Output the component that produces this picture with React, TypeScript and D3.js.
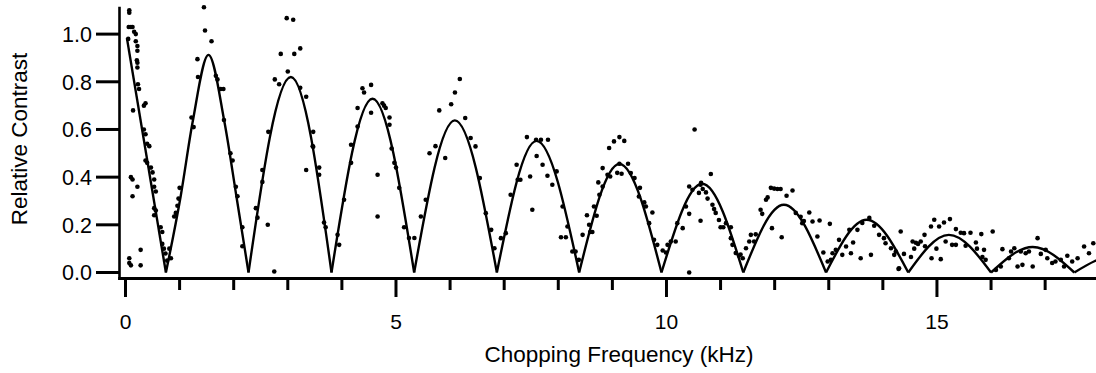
import React from "react";
import * as d3 from "d3";

// ---- Data ----
// Fitted curve knots: each arch is listed from zero to zero
const fitArches: [number, number][][] = [
  [[0.026, 0.983], [0.747, 0]],
  [[0.747, 0], [1.02, 0.32], [1.24, 0.63], [1.534, 0.913], [1.83, 0.63], [2.05, 0.32], [2.274, 0]],
  [[2.274, 0], [3.057, 0.82], [3.808, 0]],
  [[3.808, 0], [4.566, 0.729], [5.336, 0]],
  [[5.336, 0], [6.088, 0.638], [6.865, 0]],
  [[6.865, 0], [7.597, 0.552], [8.386, 0]],
  [[8.386, 0], [9.13, 0.455], [9.908, 0]],
  [[9.908, 0], [10.66, 0.372], [11.42, 0]],
  [[11.42, 0], [12.17, 0.284], [12.95, 0]],
  [[12.95, 0], [13.7, 0.221], [14.47, 0]],
  [[14.47, 0], [15.22, 0.158], [16.0, 0]],
  [[16.0, 0], [16.77, 0.107], [17.54, 0]],
  [[17.54, 0], [18.3, 0.07], [19.1, 0]],
];

// Measured points, grouped by frequency range
const dots0to3: [number, number][] = [
  [0.07,1.10],[0.07,1.09],[0.06,1.03],[0.10,1.03],[0.13,1.03],[0.16,1.01],[0.19,1.00],[0.05,0.98],[0.19,0.97],[0.22,0.95],[0.22,0.93],[0.21,0.89],[0.22,0.88],[0.22,0.86],[0.23,0.79],[0.25,0.77],[0.14,0.68],[0.34,0.70],[0.37,0.71],[0.34,0.60],[0.37,0.58],[0.40,0.54],[0.44,0.53],[0.37,0.47],[0.40,0.46],[0.47,0.44],[0.50,0.42],[0.53,0.39],[0.53,0.36],[0.56,0.34],[0.10,0.40],[0.13,0.39],[0.22,0.36],[0.13,0.32],[0.53,0.27],[0.56,0.26],[0.53,0.24],[0.65,0.19],[0.68,0.17],[0.68,0.12],[0.71,0.10],[0.74,0.08],[0.77,0.05],[0.28,0.095],[0.07,0.06],[0.10,0.03],[0.28,0.03],[0.07,0.04],
  [0.81,0.10],[0.84,0.06],[0.90,0.235],[0.93,0.25],[0.96,0.28],[1.00,0.355],[0.98,0.31],[1.22,0.65],[1.26,0.61],[1.34,0.82],[1.33,0.895],[1.45,1.113],[1.47,1.015],[1.59,0.97],[1.67,0.825],[1.70,0.81],[1.76,0.77],[1.81,0.77],[1.82,0.64],[1.94,0.50],[1.98,0.47],[2.04,0.36],[2.07,0.32],[2.16,0.19],[2.16,0.11],[2.75,0.004],
  [2.41,0.27],[2.44,0.23],[2.53,0.43],[2.53,0.38],[2.64,0.59],[2.63,0.20],[2.76,0.81],[2.87,0.917],[2.84,0.79],[2.98,1.067],[3.10,1.06],[3.00,0.843],[3.12,0.917],[3.23,0.94],[3.23,0.775],[3.34,0.737],[3.47,0.59],[3.34,0.43],[3.46,0.53],
];
const dots3to7: [number, number][] = [
  [3.47,0.527],[3.58,0.44],[3.58,0.41],[3.67,0.21],[3.70,0.19],
  [3.92,0.158],[3.95,0.116],[4.04,0.305],[4.17,0.46],[4.17,0.536],[4.29,0.612],[4.29,0.69],[4.38,0.773],[4.41,0.755],[4.54,0.787],[4.54,0.67],[4.66,0.41],[4.66,0.235],[4.75,0.71],[4.78,0.70],[4.81,0.69],[4.88,0.65],[4.88,0.62],[4.92,0.52],[4.97,0.46],[5.00,0.44],[5.06,0.355],[5.15,0.19],[5.24,0.145],[5.34,0.145],
  [5.46,0.235],[5.55,0.305],[5.62,0.50],[5.73,0.53],[5.80,0.68],[5.91,0.48],[6.02,0.706],[6.09,0.755],[6.18,0.812],[6.28,0.648],[6.38,0.564],[6.47,0.529],[6.55,0.396],[6.66,0.249],[6.76,0.179],[6.82,0.102],[6.94,0.144],[7.03,0.165],
];
const dots7to11: [number, number][] = [
  [7.12,0.326],[7.23,0.452],[7.25,0.389],[7.30,0.389],[7.42,0.568],[7.48,0.403],[7.52,0.263],[7.59,0.557],[7.68,0.557],[7.81,0.557],[7.60,0.489],[7.71,0.452],[7.80,0.406],[7.89,0.368],[7.97,0.424],[8.08,0.277],[8.05,0.148],[8.14,0.148],[8.17,0.193],[8.26,0.088],[8.32,0.088],[8.38,0.053],
  [8.45,0.158],[8.53,0.24],[8.57,0.20],[8.59,0.17],[8.63,0.17],[8.66,0.277],[8.71,0.238],[8.76,0.326],[8.82,0.361],[8.74,0.378],[8.82,0.438],[8.91,0.41],[8.96,0.403],[8.94,0.522],[9.03,0.55],[9.13,0.568],[9.22,0.552],[9.09,0.418],[9.17,0.414],[9.13,0.456],[9.29,0.456],[9.34,0.417],[9.41,0.396],[9.51,0.355],[9.49,0.319],[9.59,0.294],[9.62,0.277],[9.74,0.252],[9.68,0.207],[9.77,0.137],[9.83,0.116],[9.93,0.092],[9.99,0.084],
  [10.02,0.116],[10.08,0.13],[10.17,0.13],[10.20,0.207],[10.30,0.186],[10.36,0.277],[10.42,0.246],[10.42,0.361],[10.48,0.347],[10.52,0.60],[10.63,0.368],[10.60,0.334],[10.63,0.217],[10.42,0.0],
  [10.64,0.376],[10.67,0.35],[10.73,0.336],[10.76,0.31],[10.82,0.413],[10.85,0.284],[10.88,0.266],[10.91,0.25],[10.97,0.22],[11.00,0.19],[11.05,0.19],[11.10,0.207],[11.19,0.19],[11.19,0.144],[11.22,0.116],[11.28,0.082],[11.34,0.07],[11.37,0.075],[11.41,0.06],
];
const dots11to18: [number, number][] = [
  [11.47,0.102],[11.53,0.13],[11.56,0.158],[11.62,0.13],[11.65,0.16],[11.74,0.263],[11.77,0.246],[11.84,0.305],[11.87,0.315],[11.93,0.355],[11.99,0.352],[12.05,0.35],[12.11,0.35],[11.95,0.186],[12.13,0.148],[12.22,0.322],[12.33,0.344],[12.39,0.25],[12.48,0.234],[12.54,0.216],[12.51,0.207],[12.64,0.252],[12.70,0.214],[12.83,0.218],[12.79,0.151],[12.90,0.084],[13.02,0.204],[12.98,0.046],[13.04,0.053],
  [13.07,0.081],[13.13,0.095],[13.19,0.137],[13.25,0.074],[13.32,0.109],[13.41,0.081],[13.45,0.126],[13.38,0.179],[13.53,0.179],[13.59,0.06],[13.62,0.208],[13.75,0.229],[13.78,0.074],[13.84,0.196],[13.93,0.158],[14.02,0.144],[14.05,0.123],[14.15,0.102],[14.21,0.074],[14.29,0.015],
  [14.24,0.088],[14.30,0.018],[14.39,0.078],[14.52,0.065],[14.33,0.172],[14.55,0.13],[14.61,0.125],[14.70,0.13],[14.78,0.11],[14.58,0.10],[14.65,0.12],[14.77,0.158],[14.89,0.193],[14.95,0.221],[15.04,0.193],[14.99,0.10],[14.90,0.06],[15.07,0.056],[15.13,0.21],[15.24,0.224],[15.16,0.13],[15.28,0.116],[15.35,0.116],[15.35,0.182],[15.44,0.167],[15.50,0.165],[15.62,0.167],[15.53,0.112],[15.72,0.126],[15.74,0.10],[15.82,0.161],[15.87,0.095],[15.84,0.065],[15.90,0.053],[16.03,0.172],[16.09,0.011],[16.18,0.025],
  [16.21,0.098],[16.33,0.06],[16.37,0.088],[16.43,0.102],[16.49,0.025],[16.58,0.032],[16.55,0.088],[16.64,0.081],[16.70,0.088],[16.77,0.025],[16.86,0.144],[16.92,0.078],[17.01,0.095],[17.04,0.06],[17.13,0.04],[17.19,0.046],[17.29,0.053],[17.35,0.025],[17.41,0.07],[17.50,0.046],[17.60,0.06],[17.72,0.109],[17.81,0.081],[17.89,0.123],
];

const xMajorTicks = [0, 5, 10, 15];
const xMinorTicks = [1, 2, 3, 4, 6, 7, 8, 9, 11, 12, 13, 14, 16, 17];
const yTicks = [0, 0.2, 0.4, 0.6, 0.8, 1.0];
const xTitle = "Chopping Frequency (kHz)";
const yTitle = "Relative Contrast";

const W = 1096;
const H = 373;
const FONT = "'Liberation Sans', Arial, Helvetica, sans-serif";

export default function App() {
  const x = d3.scaleLinear().domain([0, 17.94]).range([125.5, 1096]);
  const y = d3.scaleLinear().domain([0, 1.115]).range([272.5, 6.7]);
  const line = d3
    .line<[number, number]>()
    .x((d) => x(d[0]))
    .y((d) => y(d[1]))
    .curve(d3.curveMonotoneX);

  const axisY = 278.5;
  const yAxisX = 119.5;
  const allDots = [...dots0to3, ...dots3to7, ...dots7to11, ...dots11to18];

  return (
    <svg
      width={W}
      height={H}
      viewBox={`0 0 ${W} ${H}`}
      style={{ position: "absolute", left: 0, top: 0, background: "#fff" }}
      fontFamily={FONT}
    >
      <rect x={0} y={0} width={W} height={H} fill="#fff" />
      {/* dots */}
      <g fill="#000">
        {allDots.map((d, i) => (
          <circle key={i} cx={x(d[0])} cy={y(d[1])} r={2.3} />
        ))}
      </g>
      {/* fitted curve */}
      <g fill="none" stroke="#000" strokeWidth={2.4} strokeLinejoin="round">
        {fitArches.map((a, i) => (
          <path key={i} d={line(a) || ""} />
        ))}
      </g>
      {/* axes */}
      <line x1={yAxisX} x2={yAxisX} y1={y(1.115)} y2={axisY + 1.5} stroke="#000" strokeWidth={2.6} />
      <line x1={yAxisX - 1.3} x2={W} y1={axisY} y2={axisY} stroke="#000" strokeWidth={3} />
      {xMajorTicks.map((t) => (
        <g key={"M" + t}>
          <line x1={x(t)} x2={x(t)} y1={axisY} y2={297} stroke="#000" strokeWidth={3} />
          <text x={x(t)} y={328.5} textAnchor="middle" fontSize={21} fill="#000">
            {t}
          </text>
        </g>
      ))}
      {xMinorTicks.map((t) => (
        <line key={"m" + t} x1={x(t)} x2={x(t)} y1={axisY} y2={290} stroke="#000" strokeWidth={3} />
      ))}
      {yTicks.map((t) => (
        <g key={"y" + t}>
          <line x1={96} x2={yAxisX} y1={y(t)} y2={y(t)} stroke="#000" strokeWidth={3} />
          <text x={92} y={y(t)} dy="0.36em" textAnchor="end" fontSize={21.5} fill="#000">
            {t.toFixed(1)}
          </text>
        </g>
      ))}
      <text x={619} y={362} textAnchor="middle" fontSize={22.5} fill="#000">
        {xTitle}
      </text>
      <text
        transform="translate(26.7,139) rotate(-90)"
        textAnchor="middle"
        fontSize={22.5}
        fill="#000"
      >
        {yTitle}
      </text>
    </svg>
  );
}
